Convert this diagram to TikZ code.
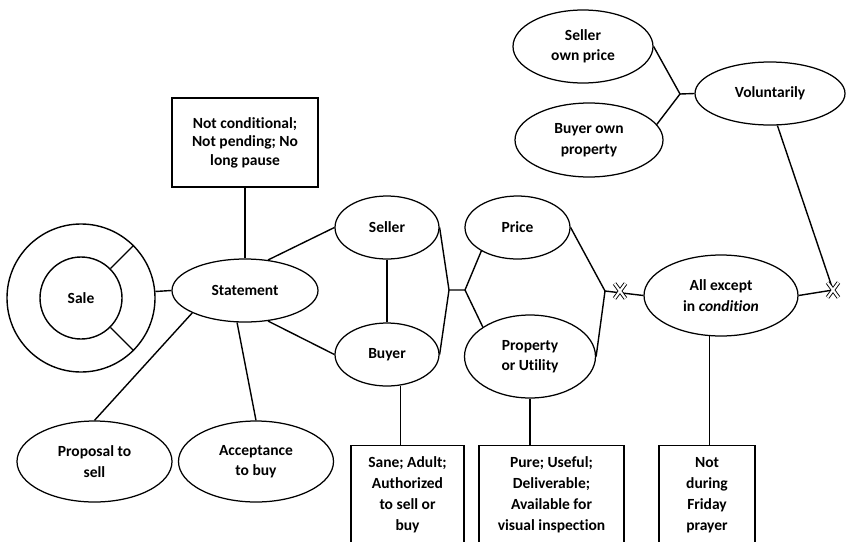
\documentclass[tikz,border=0pt]{standalone}
\usepackage{fontspec}
\setmainfont[Ligatures={NoCommon}]{Carlito}
\usetikzlibrary{shapes.geometric,shapes.misc}

\tikzstyle{link} = [line width=1.4pt]
\tikzstyle{oval} = [draw, ellipse, line width=1.25pt, inner sep=0pt, align=center,
  font=\bfseries\fontsize{15.5}{20.5}\selectfont]
\tikzstyle{rule} = [draw, rectangle, line width=1.25pt, inner sep=0pt, align=center,
  font=\bfseries\fontsize{15.5}{21}\selectfont]
\tikzstyle{cross} = [draw, cross out, double, line width=0.9pt, double distance=2.2pt,
  minimum width=10pt, minimum height=14pt, inner sep=0pt]
\tikzstyle{junction} = [coordinate]

\begin{document}
\begin{tikzpicture}[x=1pt, y=-1pt]
\path [use as bounding box] (0,0) rectangle (848,541);
\clip (0,0) rectangle (848,541);

% the sale and its statement
\node [draw, circle, link, minimum size=148pt] (ring) at (81,298) {};
\node [draw, circle, link, minimum size=82pt, font=\bfseries\fontsize{15.5}{20}\selectfont] (sale) at (81,298) {Sale};
\node [oval, minimum width=146pt, minimum height=63pt] (statement) at (245,290.5) {Statement};
\node [rule, minimum width=146pt, minimum height=89pt,
  font=\bfseries\fontsize{15.5}{18.5}\selectfont] (terms) at (245,142.5) {Not conditional;\\Not pending; No\\long pause};
\node [oval, minimum width=155pt, minimum height=81pt] (proposal) at (94.5,461.5) {Proposal to\\sell};
\node [oval, minimum width=155pt, minimum height=81pt] (accept) at (256,461.5) {Acceptance\\to buy};

% the parties and the object
\node [oval, minimum width=104pt, minimum height=63pt] (seller) at (387,227.5) {Seller};
\node [oval, minimum width=104pt, minimum height=63pt] (buyer) at (387,354.5) {Buyer};
\node [oval, minimum width=105pt, minimum height=63pt] (price) at (517.5,227.5) {Price};
\node [oval, minimum width=131pt, minimum height=83pt] (prop) at (530,356.5) {Property\\or Utility};
\node [oval, minimum width=154pt, minimum height=81pt] (alle) at (721,295.5) {All except\\in \textit{condition}};

% consent
\node [oval, minimum width=150pt, minimum height=63pt] (vol) at (770,93.5) {Voluntarily};
\node [oval, minimum width=140pt, minimum height=73pt] (sown) at (583,46.5) {Seller\\own price};
\node [oval, minimum width=148pt, minimum height=74pt] (bown) at (589,140) {Buyer own\\property};

% conditions at the bottom, cut by the page
\node [rule, anchor=north, minimum width=113pt, minimum height=99pt] (partyrule) at (407.5,445) {Sane; Adult;\\Authorized\\to sell or\\buy};
\node [rule, anchor=north, minimum width=145pt, minimum height=99pt] (objrule) at (551.5,445) {Pure; Useful;\\Deliverable;\\Available for\\visual inspection};
\node [rule, anchor=north, minimum width=96pt, minimum height=99pt] (timerule) at (707,445) {Not\\during\\Friday\\prayer};

\node [junction] (j1) at (449,290) {};
\node [junction] (j2) at (465,290) {};
\node [junction] (j3) at (605,291) {};
\node [junction] (j4) at (680,94) {};
\node [junction] (xa) at (620,291) {};
\node [junction] (xb) at (833,290) {};

% connectors
\draw [link] (sale.45) -- (ring.45);
\draw [link] (sale.-45) -- (ring.-45);
\draw [link] (ring.5) -- (statement.west);
\draw [link] (terms) -- (statement);
\draw [link] (statement.-157) -- (proposal.north);
\draw [link] (statement.-104) -- (accept.north);
\draw [link] (statement.53) -- (seller.west);
\draw [link] (statement.-53) -- (buyer.west);
\draw [link] (seller) -- (buyer);
\draw [link] (seller.east) -- (j1) -- (buyer.east);
\draw [link] (j1) -- (j2) -- (price.-147);
\draw [link] (j2) -- (prop.148);
\draw [link] (price.east) -- (j3) -- (prop.east);
\draw [link] (j3) -- (alle.west);
\draw [link] (alle.east) -- (xb);
\draw [link] (vol.-77) -- (xb);
\draw [link] (sown.east) -- (j4) -- (bown.13);
\draw [link] (j4) -- (vol.west);
\draw [link] (buyer.-67) -- (buyer.-67 |- partyrule.north);
\draw [link] (prop.south) -- (prop.south |- objrule.north);
\draw [link] (alle.-106) -- (alle.-106 |- timerule.north);

% the two marks
\node [cross] (marka) at (xa) {};
\node [cross] (markb) at (xb) {};
\end{tikzpicture}
\end{document}
